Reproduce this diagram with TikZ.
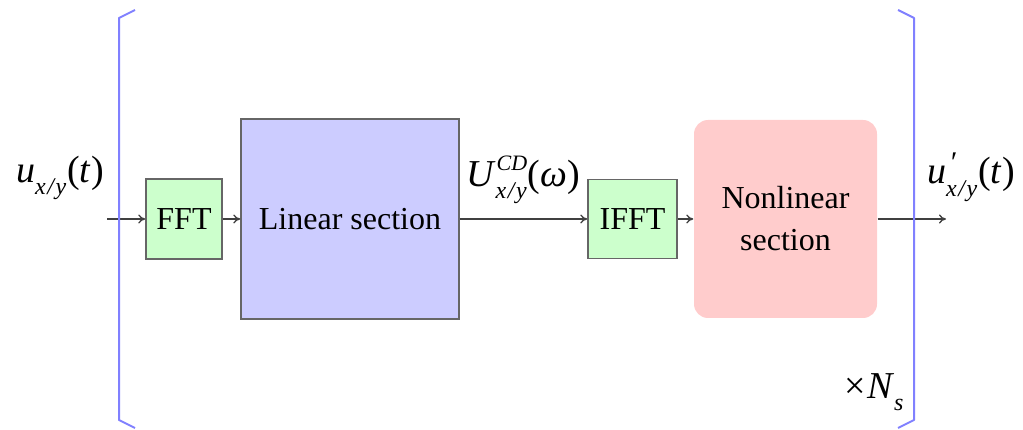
\documentclass[tikz,border=0pt]{standalone}
\usepackage{fontspec}
\setmainfont{LiberationSerif}[Extension=.ttf, UprightFont=*-Regular, ItalicFont=*-Italic, BoldFont=*-Bold, BoldItalicFont=*-BoldItalic]
\usetikzlibrary{arrows.meta}
\definecolor{boxgreen}{RGB}{204,255,204}
\definecolor{boxblue}{RGB}{204,204,255}
\definecolor{boxred}{RGB}{255,204,204}
\definecolor{bracketblue}{RGB}{128,128,255}
% sub- and superscripts set in text mode
\newcommand{\lowidx}[1]{\raisebox{-0.32em}{\fontsize{24}{26}\selectfont\itshape #1}}
\newcommand{\highidx}[1]{\raisebox{0.42em}{\fontsize{22}{24}\selectfont\itshape #1}}
\newcommand{\xy}{x\kern1.5pt/\kern1.5pty}
\tikzset{
  block/.style={draw=black!60, line width=1.4pt, inner sep=0pt, align=center},
  flow/.style={draw=black!75, line width=1.3pt, -{To[length=7pt,width=9pt]}},
  bracket/.style={draw=bracketblue, line width=2pt, line join=round},
  sig/.style={inner sep=0pt, font=\fontsize{38}{40}\selectfont}
}
\begin{document}
\begin{tikzpicture}[x=1pt,y=-1pt,font=\fontsize{32}{36}\selectfont]
\useasboundingbox (0,0) rectangle (1023,430);

% processing blocks
\node[block, fill=boxgreen, minimum width=76pt, minimum height=80pt] (fft) at (184,219) {FFT};
\node[block, fill=boxblue, minimum width=218pt, minimum height=200pt] (lin) at (350,219) {Linear section};
\node[block, fill=boxgreen, minimum width=89pt, minimum height=79pt] (ifft) at (632.5,219) {IFFT};
\node[block, draw=none, fill=boxred, rounded corners=14pt, minimum width=183pt, minimum height=198pt] (nl) at (785.5,219) {Nonlinear\\[6pt]section};

% signal path
\coordinate (in) at (107,219);
\coordinate (out) at (946,219);
\draw[flow] (in) -- (fft);
\draw[flow] (fft) -- (lin);
\draw[flow] (lin) -- (ifft);
\draw[flow] (ifft) -- (nl);
\draw[flow] (nl) -- (out);

% signal labels
\node[sig] (uin) at (60,178) {\textit{u}\lowidx{\xy}\kern1pt(\textit{t})};
\node[sig] (ucd) at (523,180) {\textit{U}\rlap{\kern1pt\highidx{CD}}\lowidx{\xy}\kern1pt(\textit{ω})};
\node[sig] (uout) at (971,177) {\textit{u}\rlap{\kern3pt\raisebox{0.3em}{\fontsize{30}{30}\selectfont\itshape ′}}\lowidx{\xy}\kern1pt(\textit{t})};

% repetition brackets
\draw[bracket] (135,10) -- (119,18) -- (119,420) -- (135,428);
\draw[bracket] (898,10) -- (914,18) -- (914,420) -- (898,428);
\node[sig] (ns) at (874,392) {×\kern1pt\textit{N}\lowidx{s}};
\end{tikzpicture}
\end{document}
